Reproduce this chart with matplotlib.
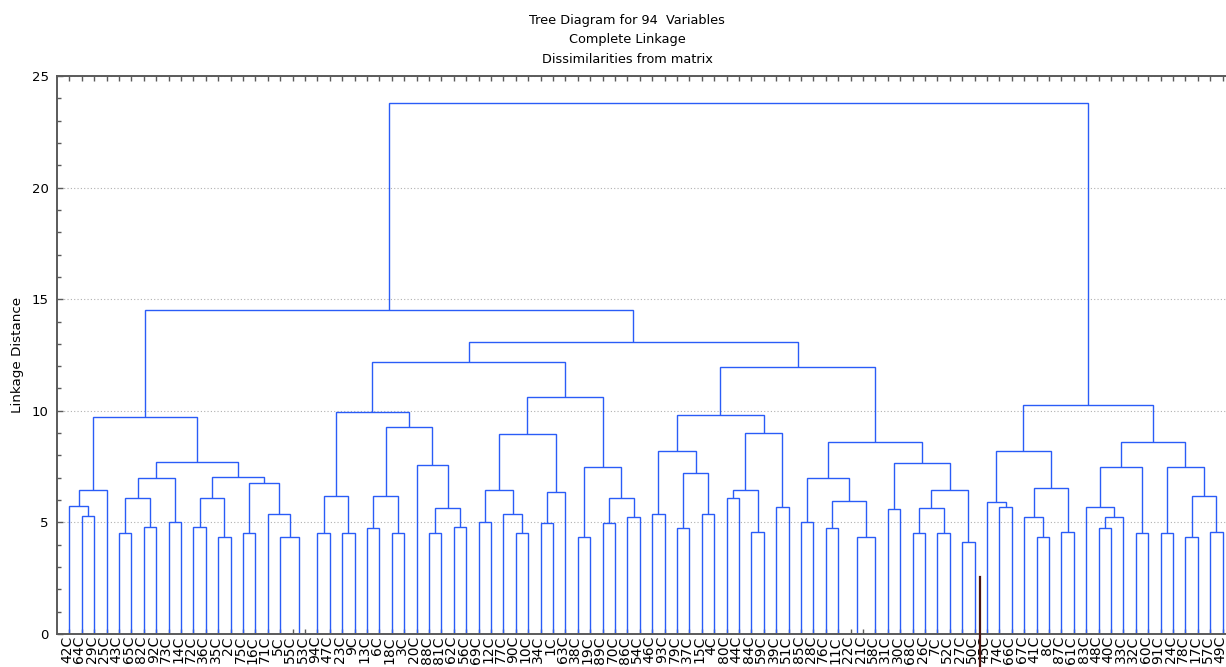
import matplotlib
matplotlib.use("Agg")
import matplotlib.pyplot as plt
from matplotlib.ticker import MultipleLocator
from matplotlib.transforms import ScaledTranslation

plt.rcParams['font.family'] = ['DejaVu Sans']

# leaf order along the horizontal axis
leaf_labels = [
    "42C", "64C", "29C", "25C", "43C", "65C", "82C", "92C", "73C", "14C",
    "72C", "36C", "35C", "2C", "75C", "16C", "71C", "5C", "55C", "53C",
    "94C", "47C", "23C", "9C", "13C", "6C", "18C", "3C", "20C", "88C",
    "81C", "62C", "56C", "69C", "12C", "77C", "90C", "10C", "34C", "1C",
    "63C", "38C", "19C", "89C", "70C", "86C", "54C", "46C", "93C", "79C",
    "37C", "15C", "4C", "80C", "44C", "84C", "59C", "39C", "51C", "85C",
    "28C", "76C", "11C", "22C", "21C", "58C", "31C", "30C", "68C", "26C",
    "7C", "52C", "27C", "50C", "45C", "74C", "66C", "67C", "41C", "8C",
    "87C", "61C", "83C", "48C", "40C", "33C", "32C", "60C", "91C", "24C",
    "78C", "17C", "57C", "49C",
]

# agglomeration steps: ids < 94 are leaves (by position), id 94+k is step k
merge_a = [1, 0, 95, 4, 6, 97, 8, 99, 10, 12, 102, 14, 18, 17, 16, 105, 104, 101, 96,
           20, 22, 113, 24, 26, 116, 29, 31, 119, 28, 118, 115,
           33, 36, 35, 125, 38, 129, 128, 41, 43, 45, 133, 132, 131, 124,
           47, 49, 51, 140, 139, 53, 55, 144, 57, 146, 143,
           59, 61, 63, 152, 151, 150, 66, 68, 70, 157, 72, 159, 156, 155, 149, 138, 112,
           75, 74, 78, 77, 80, 170, 168, 83, 174, 82, 86, 176, 88, 90, 92, 180, 179, 178,
           173, 166]
merge_b = [2, 94, 3, 5, 7, 98, 9, 100, 11, 13, 103, 15, 19, 106, 107, 108, 109, 110, 111,
           21, 23, 114, 25, 27, 117, 30, 32, 120, 121, 122, 123,
           34, 37, 126, 127, 39, 40, 130, 42, 44, 46, 134, 135, 136, 137,
           48, 50, 52, 141, 142, 54, 56, 145, 58, 147, 148,
           60, 62, 64, 65, 153, 154, 67, 69, 71, 158, 73, 160, 161, 162, 163, 164, 165,
           76, 167, 79, 169, 81, 171, 172, 84, 85, 175, 87, 177, 89, 91, 93, 181, 182, 183,
           184, 185]
merge_h = [5.28, 5.74, 6.44, 4.51, 4.81, 6.11, 5.04, 6.98, 4.81, 4.34, 6.11, 4.51, 0.0,
           4.34, 5.37, 6.76, 7.02, 7.71, 9.74,
           4.51, 4.51, 6.20, 4.74, 4.51, 6.20, 4.51, 4.81, 5.64, 7.58, 9.27, 9.93,
           5.04, 4.51, 5.37, 6.43, 4.96, 6.34, 8.96, 4.34, 4.96, 5.26, 6.11, 7.47, 10.60, 12.20,
           5.37, 4.74, 5.37, 7.20, 8.18, 6.11, 4.59, 6.43, 5.68, 9.00, 9.79,
           5.04, 4.74, 0.0, 4.34, 5.98, 6.98, 5.60, 4.51, 4.51, 5.64, 4.11, 6.43, 7.68, 8.62,
           11.97, 13.10, 14.53,
           5.68, 5.93, 4.34, 5.26, 4.59, 6.53, 8.18, 4.74, 5.26, 5.68, 4.51, 7.47, 4.51, 4.34,
           4.59, 6.19, 7.47, 8.62, 10.27, 23.77]

title_lines = ["Tree Diagram for 94  Variables", "Complete Linkage", "Dissimilarities from matrix"]
y_label = "Linkage Distance"
y_max = 25

# position of the vertical pointer line, in leaf units and distance units
pointer_x = 73.47
pointer_top = 2.55

line_color = "#2a5cf7"
axis_color = "#5a5a5a"

W, H = 1226, 667
fig = plt.figure(figsize=(W / 100, H / 100), dpi=100)
ax = fig.add_axes([57 / W, (H - 634) / H, (1235 - 57) / W, (634 - 76) / H])

n = len(leaf_labels)
ax.set_xlim(-1, n)
ax.set_ylim(0, y_max)

ax.yaxis.grid(True, linestyle=(0, (1, 2)), color="#b0b0b0", linewidth=0.8)
ax.set_axisbelow(True)

xpos = {i: float(i) for i in range(n)}
ypos = {i: 0.0 for i in range(n)}
for k, (a, b, h) in enumerate(zip(merge_a, merge_b, merge_h)):
    xa, xb = xpos[a], xpos[b]
    ax.plot([xa, xa, xb, xb], [ypos[a], h, h, ypos[b]], color=line_color,
            linewidth=1.0, solid_joinstyle="miter", solid_capstyle="butt", zorder=2)
    xpos[n + k] = (xa + xb) / 2
    ypos[n + k] = h

ax.plot([pointer_x, pointer_x], [pointer_top, -1.6], color="#4a1410", linewidth=1.6,
        clip_on=False, zorder=5)

for s in ax.spines.values():
    s.set_color(axis_color)
    s.set_linewidth(1.4)

ax.set_xticks(range(n))
ax.set_xticklabels(leaf_labels, rotation=90, fontsize=10, va="top")
ax.tick_params(axis="x", direction="in", length=3.5, width=1, color=axis_color,
               top=True, bottom=True, labeltop=False, pad=1.5)
shift = ScaledTranslation(-2.5 / 100, 0, fig.dpi_scale_trans)
for lab in ax.get_xticklabels():
    lab.set_transform(lab.get_transform() + shift)

ax.yaxis.set_major_locator(MultipleLocator(5))
ax.yaxis.set_minor_locator(MultipleLocator(1))
ax.tick_params(axis="y", which="major", direction="in", length=4, width=1,
               color=axis_color, labelsize=9.5, pad=6)
ax.tick_params(axis="y", which="minor", direction="in", length=3, width=1, color=axis_color)

ax.set_ylabel(y_label, fontsize=9.7)
ax.yaxis.set_label_coords(-0.028, 0.5)

for i, t in enumerate(title_lines):
    fig.text(627 / W, 1 - (20.5 + 19.5 * i) / H, t, ha="center", va="center", fontsize=9.3)

fig.savefig("out.png", dpi=100)
